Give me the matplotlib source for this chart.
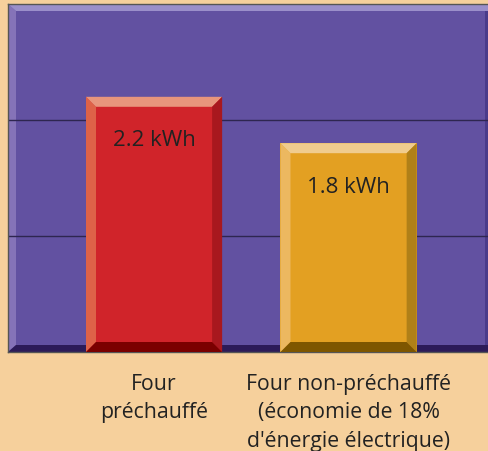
import matplotlib.pyplot as plt
from matplotlib.patches import Polygon

categories = ["Four\npréchauffé", "Four non-préchauffé\n(économie de 18%\nd'énergie électrique)"]
values = [2.2, 1.8]
value_labels = ["2.2 kWh", "1.8 kWh"]

face_colors = ["#D0242A", "#E3A022"]
left_colors = ["#DE6248", "#ECB860"]
top_colors = ["#E8957C", "#F0CC8E"]
right_colors = ["#A8181E", "#B08018"]
bottom_colors = ["#7A0000", "#7E5600"]

bg = "#F6D09C"
wall = "#6251A1"

plt.rcParams['font.family'] = ['Open Sans', 'DejaVu Sans']

fig = plt.figure(figsize=(4.89, 4.52), dpi=100, facecolor=bg)
W, H = 489, 452
ax = fig.add_axes([8 / W, (H - 353) / H, (W - 8) / W, 348 / H])
ax.set_facecolor(wall)

xlim = (-0.751, 1.722)
ylim = (0, 3)
ax.set_xlim(*xlim)
ax.set_ylim(*ylim)

# pixel sizes in data units
px_x = (xlim[1] - xlim[0]) / (W - 8)
px_y = (ylim[1] - ylim[0]) / 348

# 3D walls: left strip, top strip, floor strip, right strip
t = ax.transAxes
sx = 8 / (W - 8)
sy = 7 / 348
ax.add_patch(Polygon([(0, 0), (sx, sy), (sx, 1 - sy), (0, 1)], closed=True,
                     facecolor="#8573B8", edgecolor="none", transform=t, zorder=0.5))
ax.add_patch(Polygon([(0, 1), (sx, 1 - sy), (1, 1 - sy), (1, 1)], closed=True,
                     facecolor="#9B8FCA", edgecolor="none", transform=t, zorder=0.5))
ax.add_patch(Polygon([(0, 0), (sx, sy), (1, sy), (1, 0)], closed=True,
                     facecolor="#2C1B58", edgecolor="none", transform=t, zorder=0.5))
ax.add_patch(Polygon([(1 - 4 / (W - 8), sy), (1 - 4 / (W - 8), 1 - sy), (1, 1 - sy), (1, sy)],
                     closed=True, facecolor="#4A3B8A", edgecolor="none", transform=t, zorder=0.5))

for yv in [1, 2]:
    ax.axhline(yv, color="#2E2650", lw=1, zorder=1)

x = list(range(len(values)))
bars = ax.bar(x, values, width=0.70, color=face_colors, zorder=2)

b = 10
for i, r in enumerate(bars):
    x0, x1 = r.get_x(), r.get_x() + r.get_width()
    y0, y1 = 0, r.get_height()
    dx, dy = b * px_x, b * px_y
    ax.add_patch(Polygon([(x0, y0), (x0 + dx, y0 + dy), (x0 + dx, y1 - dy), (x0, y1)],
                         facecolor=left_colors[i], edgecolor="none", zorder=3))
    ax.add_patch(Polygon([(x0, y1), (x0 + dx, y1 - dy), (x1 - dx, y1 - dy), (x1, y1)],
                         facecolor=top_colors[i], edgecolor="none", zorder=3))
    ax.add_patch(Polygon([(x1, y0), (x1 - dx, y0 + dy), (x1 - dx, y1 - dy), (x1, y1)],
                         facecolor=right_colors[i], edgecolor="none", zorder=3))
    ax.add_patch(Polygon([(x0, y0), (x0 + dx, y0 + dy), (x1 - dx, y0 + dy), (x1, y0)],
                         facecolor=bottom_colors[i], edgecolor="none", zorder=3))
    ax.text(r.get_x() + r.get_width() / 2, y1 - 43 * px_y, value_labels[i],
            ha="center", va="center", fontsize=16, color="#222222", zorder=4)

ax.set_xticks(x)
ax.set_xticklabels(categories, fontsize=15.3, color="#222222", linespacing=1.46, va="top")
ax.tick_params(axis="x", length=0, pad=15)
ax.set_yticks([])
for s in ax.spines.values():
    s.set_color("#555555")
    s.set_linewidth(1)
ax.spines["right"].set_visible(False)

fig.savefig("out.png", dpi=100, facecolor=bg)
